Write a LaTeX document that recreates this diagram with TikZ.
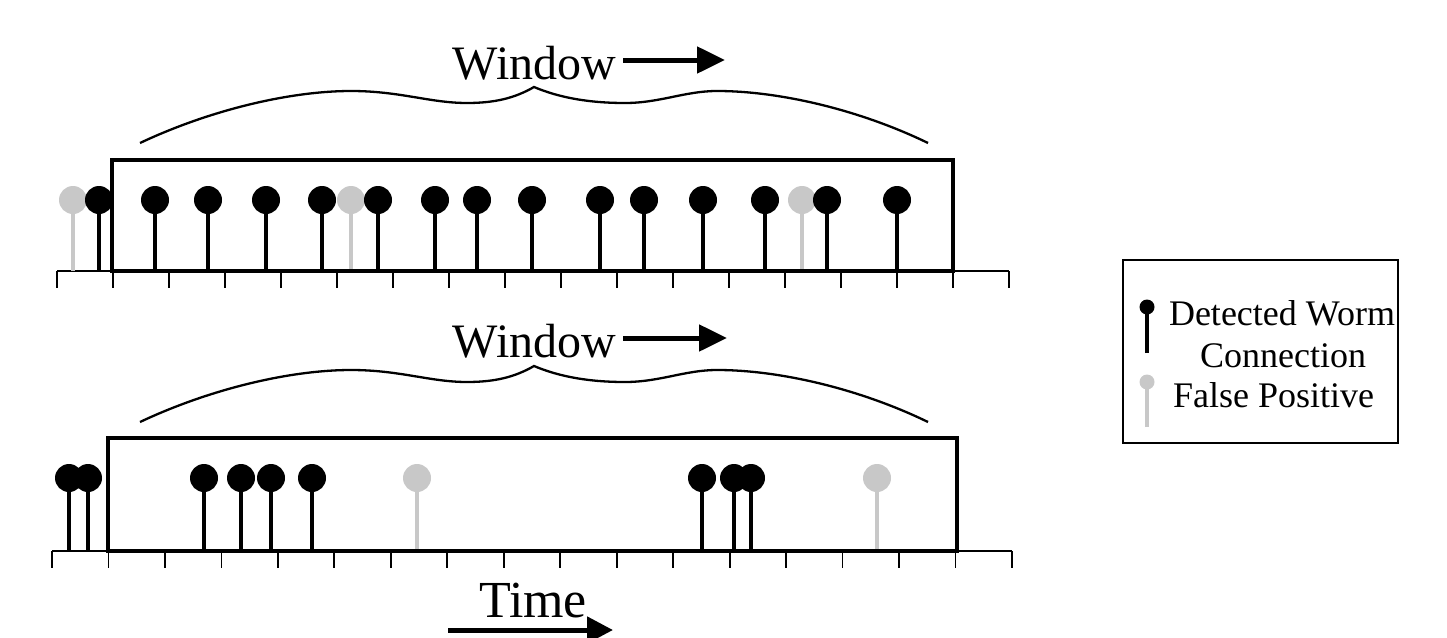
\documentclass[tikz,border=0pt]{standalone}
\usepackage{fontspec}
\setmainfont{Liberation Serif}
\usetikzlibrary{arrows.meta}
\definecolor{fpgray}{RGB}{200,200,200}
\begin{document}
\begin{tikzpicture}[x=1pt,y=-1pt,
  axisline/.style={line width=2pt},
  tickline/.style={line width=1.8pt},
  winbox/.style={line width=4pt, line join=miter},
  hitstem/.style={line width=4.6pt},
  fpstem/.style={line width=4.6pt, draw=fpgray},
  bracecurve/.style={line width=2.3pt},
  movearrow/.style={line width=5pt, -{Triangle[length=28pt,width=26pt]}},
  bigtext/.style={font=\fontsize{48}{56}\selectfont, anchor=base, inner sep=0pt},
  legtext/.style={font=\fontsize{36}{42}\selectfont, anchor=base, inner sep=0pt}
]
\useasboundingbox (0,0) rectangle (1447,637);

% ---------- top panel ----------
\draw[axisline] (57,271) -- (1009,271);
\foreach \k in {0,...,17} \draw[tickline] ({57+56*\k},271) -- ++(0,17);
\foreach \x in {73,351,802} {
  \draw[fpstem] (\x,271) -- (\x,200);
  \fill[fpgray] (\x,200) circle[radius=14];
}
\foreach \x in {99,155,208,266,322,378,435,477,532,600,644,703,765,827,897} {
  \draw[hitstem] (\x,271) -- (\x,200);
  \fill (\x,200) circle[radius=14];
}
\draw[winbox] (112,160) rectangle (953,271);
\draw[bracecurve] (140,143) .. controls (210,110) and (290,91) .. (351,91)
  .. controls (400,91) and (430,103) .. (467,103)
  .. controls (495,103) and (515,98) .. (534,87)
  .. controls (560,98) and (590,103) .. (625,103)
  .. controls (660,103) and (685,91) .. (717,91)
  .. controls (780,91) and (860,110) .. (928,143);
\node[bigtext] (win1) at (534.5,79) {Window};
\coordinate (a1s) at (623,60);
\coordinate (a1e) at (725,60);
\draw[movearrow] (a1s) -- (a1e);

% ---------- bottom panel ----------
\draw[axisline] (52,551) -- (1012,551);
\foreach \k in {0,...,17} \draw[tickline] ({52+56.47*\k},551) -- ++(0,17);
\foreach \x in {417,877} {
  \draw[fpstem] (\x,551) -- (\x,478);
  \fill[fpgray] (\x,478) circle[radius=14];
}
\foreach \x in {69,88,204,241,271,312,702,734,751} {
  \draw[hitstem] (\x,551) -- (\x,478);
  \fill (\x,478) circle[radius=14];
}
\draw[winbox] (108,438) rectangle (957,551);
\draw[bracecurve] (140,422) .. controls (210,389) and (290,370) .. (351,370)
  .. controls (400,370) and (430,382) .. (467,382)
  .. controls (495,382) and (515,377) .. (534,366)
  .. controls (560,377) and (590,382) .. (625,382)
  .. controls (660,382) and (685,370) .. (717,370)
  .. controls (780,370) and (860,389) .. (928,422);
\node[bigtext] (win2) at (534.5,357) {Window};
\coordinate (a2s) at (623,338);
\coordinate (a2e) at (727,338);
\draw[movearrow] (a2s) -- (a2e);

% ---------- time ----------
\node[font=\fontsize{52}{60}\selectfont, anchor=base, inner sep=0pt] (time) at (533,617) {Time};
\coordinate (ts) at (448,630);
\coordinate (te) at (613,630);
\draw[line width=5pt, -{Triangle[length=26pt,width=26pt]}] (ts) -- (te);

% ---------- legend ----------
\draw[line width=1.5pt] (1123,260) rectangle (1398,443);
\draw[line width=4.5pt] (1147,353) -- (1147,307);
\fill (1147,307) circle[radius=7.5];
\draw[line width=4.5pt, fpgray] (1147,427) -- (1147,382);
\fill[fpgray] (1147,382) circle[radius=7.5];
\node[legtext] (l1) at (1282,325) {Detected Worm};
\node[legtext] (l2) at (1283,367) {Connection};
\node[legtext] (l3) at (1273.5,407) {False Positive};
\end{tikzpicture}
\end{document}
